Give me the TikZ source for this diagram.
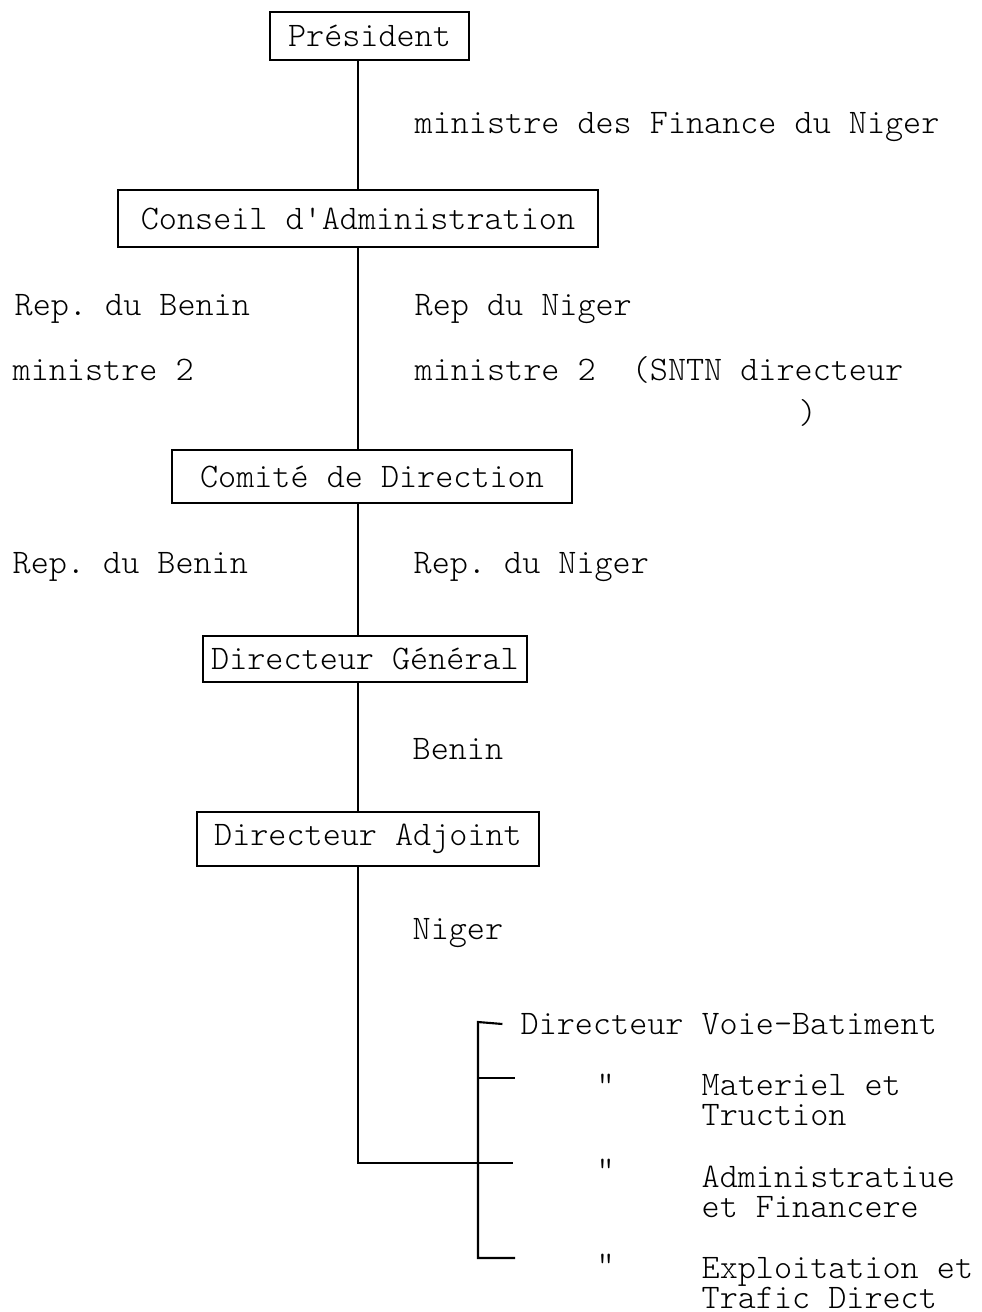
\documentclass[tikz,border=0pt]{standalone}
\usepackage{fontspec}
\setmonofont{Latin Modern Mono Light}
\usepackage{tikz}
\usetikzlibrary{positioning,calc}
\frenchspacing

\begin{document}
\begin{tikzpicture}[
    x=0.01cm, y=-0.01cm,
    font=\ttfamily\fontsize{9.8pt}{8.5pt}\selectfont,
    bx/.style={draw, line width=0.5pt, inner sep=0pt},
    lb/.style={anchor=west, inner sep=0pt, align=left},
    ln/.style={line width=0.6pt},
]
\useasboundingbox (0,0) rectangle (981,1312);

% === Boxes ===
\node[bx, minimum width=1.99cm, minimum height=0.48cm] at (369.5,36) (pres) {Président};
\node[bx, minimum width=4.80cm, minimum height=0.57cm] at (358,218.5) (ca) {Conseil d'Administration};
\node[bx, minimum width=4.00cm, minimum height=0.53cm] at (372,476.5) (cd) {Comité de Direction};
\node[bx, minimum width=3.24cm, minimum height=0.46cm] at (365,659) (dg) {Directeur Général};
\node[bx, minimum width=3.42cm, minimum height=0.54cm] at (368,839) (da) {Directeur Adjoint};

% === Spine and bracket points ===
\coordinate (sp) at (358,0);
\coordinate (brj) at (478,1163);
\coordinate (btop) at (478,1022);
\coordinate (bmid) at (478,1078);
\coordinate (bbot) at (478,1258);

% === Labels ===
\node[lb] at (414,127) (mfn) {ministre des Finance du Niger};
\node[lb] at (14,309) (rb1) {Rep. du Benin};
\node[lb] at (12,370) (mb1) {ministre 2};
\node[lb] at (414,309) (rn1) {Rep du Niger};
\node[lb] at (414,370) (mn1) {ministre 2\ \ (SNTN directeur};
\node[lb] at (798,413) (par) {)};
\node[lb] at (12,567) (rb2) {Rep. du Benin};
\node[lb] at (413,567) (rn2) {Rep. du Niger};
\node[lb] at (412,749) (bn) {Benin};
\node[lb] at (412,933) (ng) {Niger};

% === Directions ===
\node[lb] at (520,1024) (dvb) {Directeur Voie-Batiment};
\node[lb] at (596,1085) (q1) {"};
\node[lb] at (701,1100) (mt) {Materiel et\\Truction};
\node[lb] at (596,1170) (q2) {"};
\node[lb] at (701,1192) (af) {Administratiue\\et Financere};
\node[lb] at (596,1265) (q3) {"};
\node[lb] at (701,1283) (et) {Exploitation et\\Trafic Direct};

% --- Spine ---
\draw[ln] (pres.south -| sp) -- (ca.north -| sp);
\draw[ln] (ca.south -| sp) -- (cd.north -| sp);
\draw[ln] (cd.south -| sp) -- (dg.north -| sp);
\draw[ln] (dg.south -| sp) -- (da.north -| sp);
\draw[ln] (da.south -| sp) |- (brj);

% --- Bracket ---
\draw[ln] ([xshift=-5]dvb.west) -- (btop) -- (bbot) -- ++(37,0);
\draw[ln] (bmid) -- ++(37,0);
\draw[ln] (brj) -- ++(35,0);

\end{tikzpicture}
\end{document}
